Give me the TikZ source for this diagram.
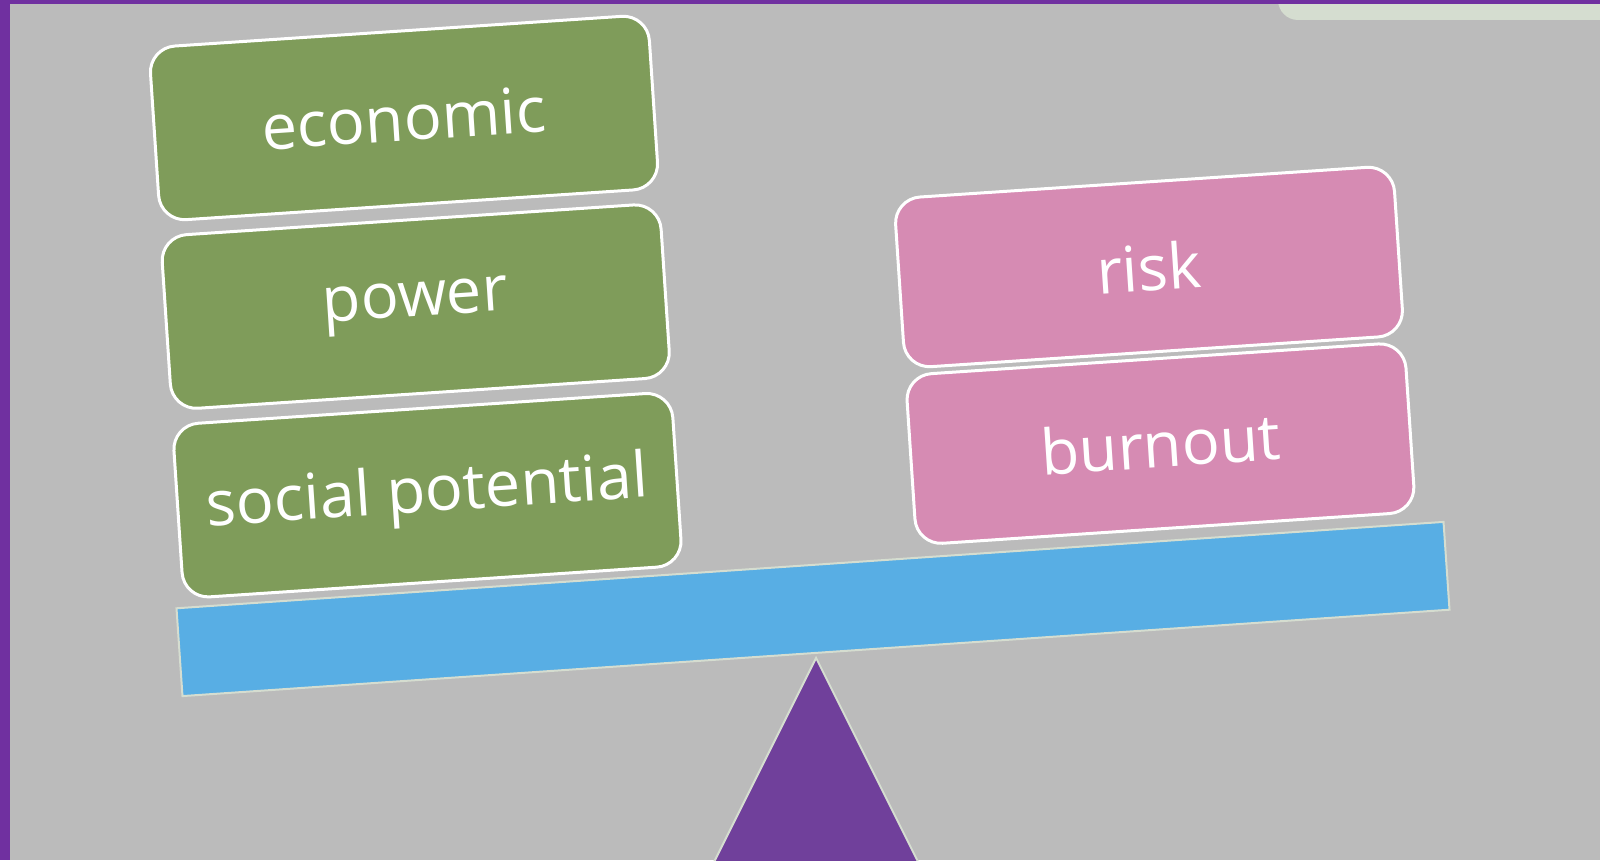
\documentclass[tikz,border=0pt]{standalone}
\usepackage{fontspec}
\setmainfont{Open Sans}
\usetikzlibrary{positioning}

\definecolor{slidegray}{HTML}{BBBBBB}
\definecolor{framepurple}{HTML}{7030A0}
\definecolor{tablight}{HTML}{D5DDD0}
\definecolor{gaingreen}{HTML}{7F9C5A}
\definecolor{losspink}{HTML}{D68BB3}
\definecolor{plankblue}{HTML}{58AEE4}
\definecolor{fulcrumpurple}{HTML}{70409B}

\begin{document}
\begin{tikzpicture}[x=1pt, y=1pt,
    weight/.style={rectangle, rounded corners=26pt, draw=white, line width=3pt,
        minimum width=500pt, minimum height=174pt, inner sep=0pt,
        text=white, font=\fontsize{63}{76}\selectfont, rotate=3.8},
    plank/.style={rectangle, fill=plankblue, draw=tablight, line width=2pt,
        minimum width=1270pt, minimum height=88pt, inner sep=0pt, rotate=3.9}]
    \useasboundingbox (0,0) rectangle (1600,860);
    \clip (0,0) rectangle (1600,860);
    % slide background and frame
    \fill[slidegray] (0,0) rectangle (1600,860);
    \fill[tablight, rounded corners=20pt] (1278,840) rectangle (1640,900);
    \fill[framepurple] (0,0) rectangle (10,860);
    \fill[framepurple] (0,856) rectangle (1600,860);

    % left pan
    \node[weight, fill=gaingreen] (economic) at (404,742) {economic};
    \node[weight, fill=gaingreen, below=12pt of economic] (power) {power};
    \node[weight, fill=gaingreen, below=12pt of power] (social) {social potential};

    % right pan
    \node[weight, fill=losspink, minimum height=170pt] (risk) at (1149,593) {risk};
    \node[weight, fill=losspink, minimum height=170pt, below=4pt of risk] (burnout) {burnout};

    % beam and fulcrum
    \node[plank] (beam) at (813,251) {};
    \coordinate (pivot) at ([yshift=-4pt]beam.south);
    \filldraw[fill=fulcrumpurple, draw=tablight, line width=2pt]
        (pivot) -- +(-106,-212) -- +(106,-212) -- cycle;
\end{tikzpicture}
\end{document}
